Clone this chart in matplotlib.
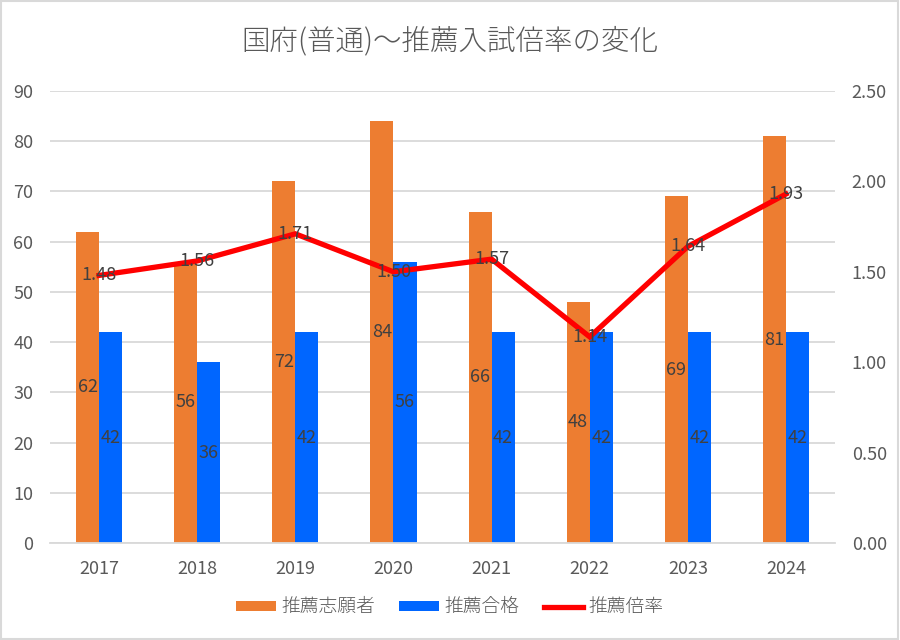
import matplotlib
matplotlib.use("Agg")
import matplotlib.pyplot as plt
import numpy as np
from matplotlib.patches import Rectangle

plt.rcParams['font.family'] = ['Noto Sans CJK JP', 'DejaVu Sans']

years = ['2017', '2018', '2019', '2020', '2021', '2022', '2023', '2024']
applicants = [62, 56, 72, 84, 66, 48, 69, 81]
passed = [42, 36, 42, 56, 42, 42, 42, 42]
ratio = [1.48, 1.56, 1.71, 1.50, 1.57, 1.14, 1.64, 1.93]
left_ticks = [0, 10, 20, 30, 40, 50, 60, 70, 80, 90]
right_ticks = [0.0, 0.5, 1.0, 1.5, 2.0, 2.5]

title = '国府(普通)～推薦入試倍率の変化'
names = ['推薦志願者', '推薦合格', '推薦倍率']

orange = '#ED7D31'
blue = '#0066FF'
red = '#FF0000'
txt = '#595959'
lab = '#404040'
grid = '#D9D9D9'
fs = 13

fig = plt.figure(figsize=(9, 6.4), dpi=100)
fig.patches.append(Rectangle((0.001, 0.001), 0.997, 0.997, transform=fig.transFigure,
                             fill=False, edgecolor='#D9D9D9', linewidth=1.5))
ax = fig.add_axes([0.0556, 0.1516, 0.8722, 0.7062])
x = np.arange(len(years))
w = 0.235
b1 = ax.bar(x - w / 2, applicants, w, color=orange, label=names[0], zorder=2)
b2 = ax.bar(x + w / 2, passed, w, color=blue, label=names[1], zorder=2)
ax.set_xlim(-0.5, len(years) - 0.5)
ax.set_ylim(0, 90)
ax.set_yticks(left_ticks)
ax.set_yticklabels([str(t) for t in left_ticks])
ax.set_xticks(x)
ax.set_xticklabels(years)
ax.yaxis.grid(True, color=grid, linewidth=1.3, zorder=0)
ax.set_axisbelow(True)
for s in ['top', 'right', 'left']:
    ax.spines[s].set_visible(False)
ax.spines['bottom'].set_color(grid)
ax.spines['bottom'].set_linewidth(1.3)
ax.tick_params(axis='y', length=0, labelsize=fs, colors=txt, pad=12)
ax.tick_params(axis='x', length=0, labelsize=fs, colors=txt, pad=12)

for i in range(len(years)):
    ax.text(x[i] - w / 2, applicants[i] / 2, str(applicants[i]), ha='center', va='center',
            fontsize=fs, color=lab, zorder=5)
    ax.text(x[i] + w / 2, passed[i] / 2, str(passed[i]), ha='center', va='center',
            fontsize=fs, color=lab, zorder=5)

ax2 = ax.twinx()
ax2.set_ylim(0, 2.5)
ax2.set_yticks(right_ticks)
ax2.set_yticklabels([f'{t:.2f}' for t in right_ticks])
l, = ax2.plot(x, ratio, color=red, linewidth=3.8, label=names[2], zorder=3,
              solid_joinstyle='miter')
for s in ['top', 'right', 'left', 'bottom']:
    ax2.spines[s].set_visible(False)
ax2.tick_params(axis='y', length=0, labelsize=fs, colors=txt, pad=12)
for i in range(len(years)):
    ax2.text(x[i], ratio[i], f'{ratio[i]:.2f}', ha='center', va='center',
             fontsize=fs, color=lab, zorder=5)

fig.text(0.5, 0.935, title, ha='center', va='center', fontsize=20.5, color=txt,
         fontweight='light')

handles = [b1, b2, l]
fig.legend(handles, names, loc='center', bbox_to_anchor=(0.5, 0.051), ncol=3,
           frameon=False, prop={'size': 13.5, 'weight': 'light'}, labelcolor=txt,
           handlelength=2.1, handleheight=0.45, columnspacing=1.3, handletextpad=0.3)

fig.savefig('out.png', dpi=100)
